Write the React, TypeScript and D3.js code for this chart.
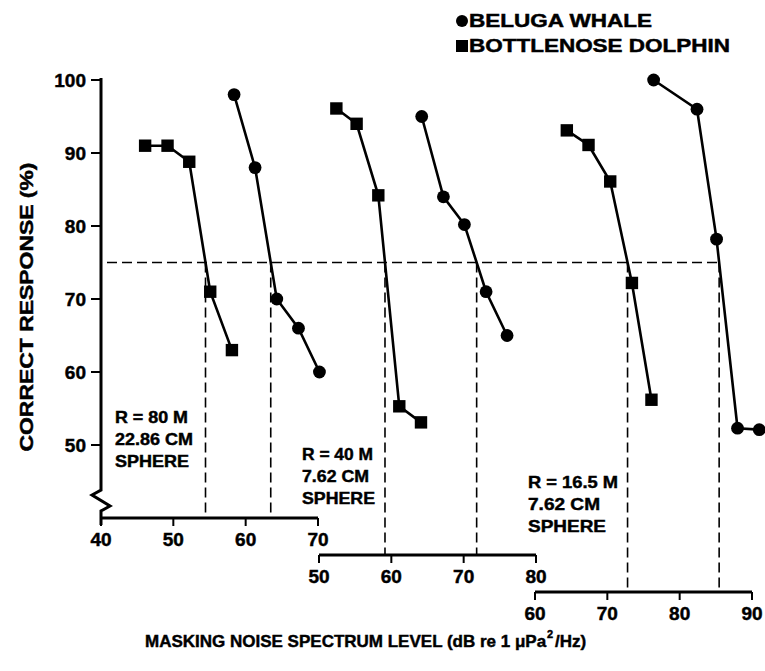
import React from "react";
import * as d3 from "d3";

// Correct response (%) versus masking noise level for three target setups
const whale80mLevel = [58.4, 61.3, 64.3, 67.3, 70.2];
const whale80mResponse = [98, 88, 70, 66, 60];
const dolphin80mLevel = [46.1, 49.2, 52.2, 55.1, 58.1];
const dolphin80mResponse = [91, 91, 88.8, 71, 63];

const whale40mLevel = [64.2, 67.2, 70.1, 73.1, 76.0];
const whale40mResponse = [95, 84, 80.2, 71, 65];
const dolphin40mLevel = [52.4, 55.2, 58.2, 61.1, 64.1];
const dolphin40mResponse = [96.1, 94, 84.2, 55.3, 53.1];

const whale16mLevel = [76.4, 82.4, 85.1, 88.0, 91.0];
const whale16mResponse = [100, 96, 78.2, 52.3, 52.1];
const dolphin16mLevel = [64.4, 67.4, 70.4, 73.4, 76.1];
const dolphin16mResponse = [93.1, 91.1, 86.1, 72.2, 56.2];

const responseTicks = [50, 60, 70, 80, 90, 100];
const levelTicks80m = [40, 50, 60, 70];
const levelTicks40m = [50, 60, 70, 80];
const levelTicks16m = [60, 70, 80, 90];

const thresholdResponse = 75;

const legendLabels = ["BELUGA WHALE", "BOTTLENOSE DOLPHIN"];
const panelNotes80m = ["R = 80 M", "22.86 CM", "SPHERE"];
const panelNotes40m = ["R = 40 M", "7.62 CM", "SPHERE"];
const panelNotes16m = ["R = 16.5 M", "7.62 CM", "SPHERE"];

const FONT = "'Liberation Sans', Arial, Helvetica, sans-serif";
const INK = "#000";
const TEXT_STROKE = 0.45;

type Pt = [number, number];

function zip(xs: number[], ys: number[]): Pt[] {
  return xs.map((x, i) => [x, ys[i]]);
}

// level at which a series crosses the threshold response
function crossing(pts: Pt[], level: number): number {
  for (let i = 0; i < pts.length - 1; i++) {
    const [x0, y0] = pts[i];
    const [x1, y1] = pts[i + 1];
    if ((y0 - level) * (y1 - level) <= 0 && y0 !== y1) {
      return x0 + ((y0 - level) / (y0 - y1)) * (x1 - x0);
    }
  }
  return pts[pts.length - 1][0];
}

export default function App() {
  const width = 765;
  const height = 671;

  const y = d3.scaleLinear().domain([40, 100]).range([518, 80]);
  const yAxisX = 101;

  const panels = [
    {
      scale: d3.scaleLinear().domain([40, 70]).range([101, 318]),
      axisY: 518,
      ticks: levelTicks80m,
      whale: zip(whale80mLevel, whale80mResponse),
      dolphin: zip(dolphin80mLevel, dolphin80mResponse),
      notes: panelNotes80m,
      noteX: 115,
      noteY: 423,
      noteWidths: [73, 78, 74],
    },
    {
      scale: d3.scaleLinear().domain([50, 80]).range([319, 536]),
      axisY: 555,
      ticks: levelTicks40m,
      whale: zip(whale40mLevel, whale40mResponse),
      dolphin: zip(dolphin40mLevel, dolphin40mResponse),
      notes: panelNotes40m,
      noteX: 302,
      noteY: 460,
      noteWidths: [71, 67, 73],
    },
    {
      scale: d3.scaleLinear().domain([60, 90]).range([535, 752]),
      axisY: 592,
      ticks: levelTicks16m,
      whale: zip(whale16mLevel, whale16mResponse),
      dolphin: zip(dolphin16mLevel, dolphin16mResponse),
      notes: panelNotes16m,
      noteX: 528,
      noteY: 488,
      noteWidths: [90, 72, 78],
    },
  ];

  const yT = y(thresholdResponse);
  const lastPanel = panels[2];
  const hEnd = lastPanel.scale(crossing(lastPanel.whale, thresholdResponse));

  // y axis with a break near the bottom
  const breakTop = 490;
  const yAxisPath = d3.line()([
    [yAxisX, y(100) - 2],
    [yAxisX, breakTop],
    [yAxisX - 9, breakTop + 5],
    [yAxisX + 9, breakTop + 16],
    [yAxisX, breakTop + 21],
    [yAxisX, 525],
  ]);

  return (
    <svg
      width={width}
      height={height}
      style={{ position: "absolute", left: 0, top: 0, background: "#fff" }}
      fontFamily={FONT}
      fontWeight="bold"
    >
      <rect width={width} height={height} fill="#fff" />

      <g fill={INK} stroke={INK} strokeWidth={TEXT_STROKE}>
        {/* legend */}
        <text x={469} y={27} fontSize={17.5} textLength={183} lengthAdjust="spacingAndGlyphs">
          {legendLabels[0]}
        </text>
        <text x={469} y={52} fontSize={17.5} textLength={261} lengthAdjust="spacingAndGlyphs">
          {legendLabels[1]}
        </text>

        {/* response axis labels */}
        {responseTicks.map((t) => (
          <text key={t} x={86} y={y(t)} dy="0.36em" fontSize={19} textAnchor="end">
            {t}
          </text>
        ))}
        <text
          transform={`translate(33,307) rotate(-90)`}
          fontSize={17.5}
          textAnchor="middle"
          textLength={289}
          lengthAdjust="spacingAndGlyphs"
        >
          CORRECT RESPONSE (%)
        </text>

        {/* level axis title, split around the superscript */}
        <text x={145} y={647} fontSize={17}>
          MASKING NOISE SPECTRUM LEVEL (dB re 1 μPa
        </text>
        <text x={547} y={638} fontSize={11}>
          2
        </text>
        <text x={555} y={647} fontSize={17}>
          /Hz)
        </text>
      </g>

      <circle cx={462} cy={21} r={6} fill={INK} />
      <rect x={456} y={40} width={12} height={12} fill={INK} />

      {/* response axis */}
      <path d={yAxisPath ?? ""} fill="none" stroke={INK} strokeWidth={3} strokeLinejoin="miter" />
      {responseTicks.map((t) => (
        <line key={t} x1={yAxisX - 10} x2={yAxisX} y1={y(t)} y2={y(t)} stroke={INK} strokeWidth={2} />
      ))}

      {/* threshold line */}
      <line
        x1={107}
        x2={hEnd}
        y1={yT}
        y2={yT}
        stroke={INK}
        strokeWidth={1.6}
        strokeDasharray="10 5"
      />

      {panels.map((p, i) => {
        const line = d3
          .line<Pt>()
          .x((d) => p.scale(d[0]))
          .y((d) => y(d[1]));
        const [r0, r1] = p.scale.range();
        const xs = [crossing(p.dolphin, thresholdResponse), crossing(p.whale, thresholdResponse)];
        return (
          <g key={i}>
            {/* level axis */}
            <line x1={r0} x2={r1} y1={p.axisY} y2={p.axisY} stroke={INK} strokeWidth={3} />
            {p.ticks.map((t) => (
              <g key={t}>
                <line
                  x1={p.scale(t)}
                  x2={p.scale(t)}
                  y1={p.axisY}
                  y2={p.axisY + 8}
                  stroke={INK}
                  strokeWidth={2}
                />
                <text
                  x={p.scale(t)}
                  y={p.axisY + 28}
                  fontSize={19}
                  textAnchor="middle"
                  stroke={INK}
                  strokeWidth={TEXT_STROKE}
                >
                  {t}
                </text>
              </g>
            ))}

            {/* threshold drop lines */}
            {xs.map((v, k) => (
              <line
                key={k}
                x1={p.scale(v)}
                x2={p.scale(v)}
                y1={yT}
                y2={p.axisY}
                stroke={INK}
                strokeWidth={1.6}
                strokeDasharray="10 5"
              />
            ))}

            {/* series */}
            <path d={line(p.dolphin) ?? ""} fill="none" stroke={INK} strokeWidth={2.6} />
            <path d={line(p.whale) ?? ""} fill="none" stroke={INK} strokeWidth={2.6} />
            {p.dolphin.map((d, k) => (
              <rect
                key={k}
                x={p.scale(d[0]) - 6.2}
                y={y(d[1]) - 6.2}
                width={12.4}
                height={12.4}
                fill={INK}
              />
            ))}
            {p.whale.map((d, k) => (
              <circle key={k} cx={p.scale(d[0])} cy={y(d[1])} r={6.4} fill={INK} />
            ))}

            {/* setup notes */}
            {p.notes.map((s, k) => (
              <text
                key={k}
                x={p.noteX}
                y={p.noteY + k * 22}
                fontSize={16.5}
                textLength={p.noteWidths[k]}
                lengthAdjust="spacingAndGlyphs"
                stroke={INK}
                strokeWidth={TEXT_STROKE}
              >
                {s}
              </text>
            ))}
          </g>
        );
      })}
    </svg>
  );
}
